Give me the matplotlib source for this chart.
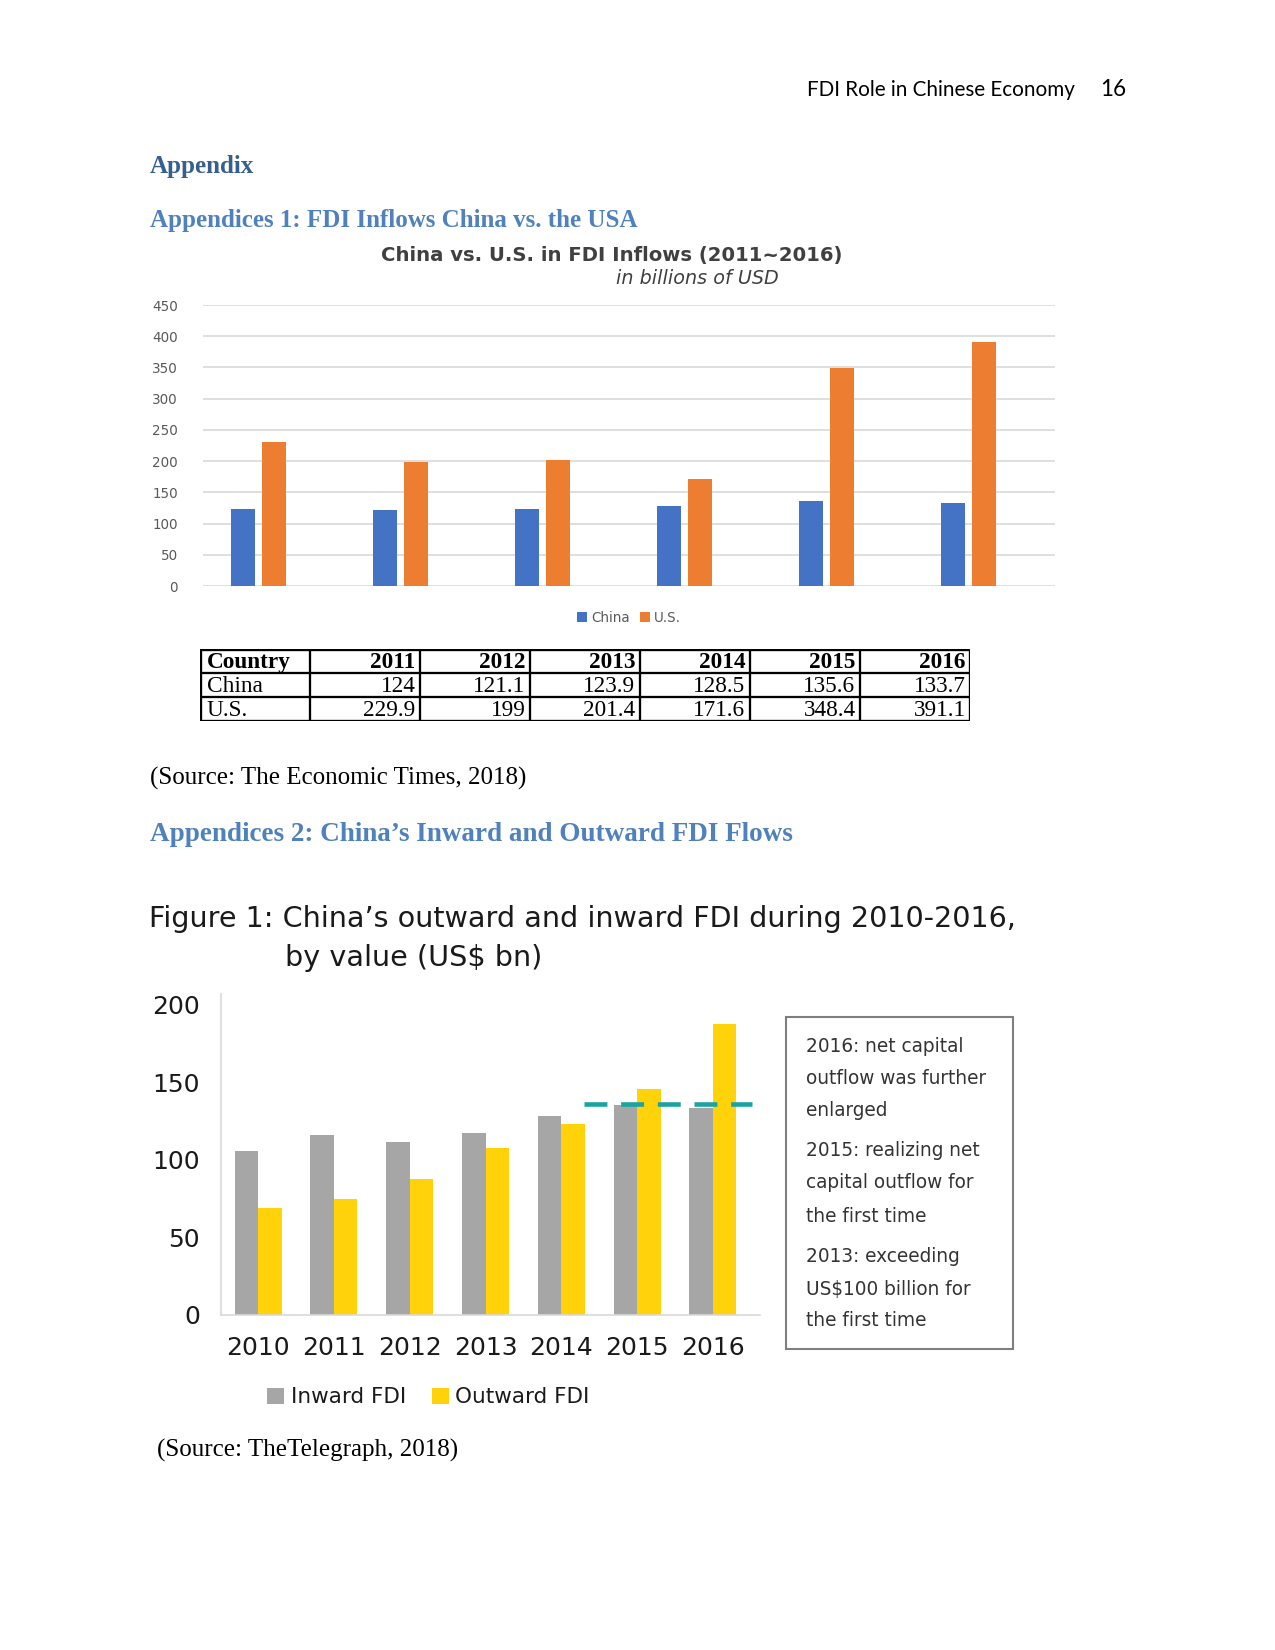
import matplotlib
matplotlib.use('Agg')
import matplotlib.pyplot as plt
from matplotlib.patches import Rectangle
import numpy as np

# ---- data ----
years1 = ['2011', '2012', '2013', '2014', '2015', '2016']
china = [124, 121.1, 123.9, 128.5, 135.6, 133.7]
us = [229.9, 199, 201.4, 171.6, 348.4, 391.1]

years2 = ['2010', '2011', '2012', '2013', '2014', '2015', '2016']
inward = [105.7, 116.0, 111.7, 117.6, 128.5, 135.6, 133.7]
outward = [68.8, 74.7, 87.8, 107.8, 123.1, 145.7, 187.8]
net_level = 135.8

notes = ['2016: net capital', 'outflow was further', 'enlarged',
         '2015: realizing net', 'capital outflow for', 'the first time',
         '2013: exceeding', 'US$100 billion for', 'the first time']

W, H = 1275, 1650
fig = plt.figure(figsize=(8.5, 11), dpi=150)

def fx(x):
    return x / W

def fy(y):
    return 1 - y / H

serif = 'Liberation Serif'
head1 = '#365F91'
head2 = '#4F81BD'

# page header
fig.text(fx(1075), fy(90), 'FDI Role in Chinese Economy', ha='right', va='center',
         fontsize=9.9, family='Lato', color='black')
fig.text(fx(1126), fy(90), '16', ha='right', va='center',
         fontsize=10.8, family='Lato', color='black')

fig.text(fx(150), fy(167), 'Appendix', ha='left', va='center', fontsize=12,
         family=serif, weight='bold', color=head1)
fig.text(fx(150), fy(221), 'Appendices 1: FDI Inflows China vs. the USA', ha='left',
         va='center', fontsize=12, family=serif, weight='bold', color=head2)

# ---- chart 1 ----
ax1 = fig.add_axes([fx(203), fy(586), (1055 - 203) / W, (586 - 305) / H])
x = np.arange(len(years1))
ax1.bar(x - 0.11, china, width=0.17, color='#4472C4', label='China', zorder=3)
ax1.bar(x + 0.11, us, width=0.17, color='#ED7D31', label='U.S.', zorder=3)
ax1.set_xlim(-0.39, len(years1) - 0.39)
ax1.set_ylim(0, 450)
ax1.set_yticks(range(0, 451, 50))
ax1.set_xticks([])
ax1.grid(axis='y', color='#D9D9D9', lw=0.8, zorder=0)
for s in ax1.spines.values():
    s.set_visible(False)
ax1.tick_params(axis='y', length=0, labelsize=6.5, labelcolor='#595959', pad=12)
ax1.legend(loc='upper center', bbox_to_anchor=(0.5, -0.045), ncol=2, frameon=False,
           fontsize=6.5, handlelength=0.7, handleheight=0.7, columnspacing=0.8,
           handletextpad=0.3, labelcolor='#595959')
fig.text(fx(612), fy(256), 'China vs. U.S. in FDI Inflows (2011~2016)', ha='center',
         va='center', fontsize=9.4, weight='bold', color='#404040')
fig.text(fx(697), fy(279), 'in billions of USD', ha='center', va='center',
         fontsize=9.2, style='italic', color='#404040')

# ---- table ----
axt = fig.add_axes([fx(200), fy(721), (970 - 200) / W, (721 - 649) / H])
axt.set_xlim(0, 7)
axt.set_ylim(3, 0)
axt.axis('off')
for i in range(8):
    axt.plot([i, i], [0, 3], color='black', lw=1.6 if i in (0, 7) else 1.1)
for j in range(4):
    axt.plot([0, 7], [j, j], color='black', lw=1.6 if j in (0, 3) else 1.1)
rows = [['Country'] + years1,
        ['China'] + [f'{v:g}' for v in china],
        ['U.S.'] + [f'{v:g}' for v in us]]
for r, row in enumerate(rows):
    for c, val in enumerate(row):
        bold = 'bold' if r == 0 else 'normal'
        if c == 0:
            axt.text(0.06, r + 0.55, val, ha='left', va='center', family=serif,
                     fontsize=11.2, weight=bold)
        else:
            axt.text(c + 0.96, r + 0.55, val, ha='right', va='center', family=serif,
                     fontsize=11.2, weight=bold)

fig.text(fx(150), fy(778), '(Source: The Economic Times, 2018)', ha='left', va='center',
         fontsize=12, family=serif)
fig.text(fx(150), fy(834), 'Appendices 2: China\u2019s Inward and Outward FDI Flows',
         ha='left', va='center', fontsize=13, family=serif, weight='bold', color=head2)

# ---- chart 2 ----
fig.text(fx(149), fy(919), 'Figure 1: China\u2019s outward and inward FDI during 2010-2016,',
         ha='left', va='center', fontsize=13.75, color='#1a1a1a')
fig.text(fx(285), fy(958), 'by value (US$ bn)', ha='left', va='center',
         fontsize=13.75, color='#1a1a1a')

ax2 = fig.add_axes([fx(221), fy(1315), (760 - 221) / W, (1315 - 994) / H])
x2 = np.arange(len(years2))
ax2.bar(x2 - 0.155, inward, width=0.31, color='#A6A6A6', label='Inward FDI')
ax2.bar(x2 + 0.155, outward, width=0.31, color='#FFD20A', label='Outward FDI')
ax2.plot([4.30, 6.52], [net_level, net_level], color='#1AA3A3', lw=2.2,
         dashes=(5, 3))
ax2.set_xlim(-0.49, 6.62)
ax2.set_ylim(0, 207)
ax2.set_yticks(range(0, 201, 50))
ax2.set_xticks(x2)
ax2.set_xticklabels(years2)
ax2.spines['top'].set_visible(False)
ax2.spines['right'].set_visible(False)
ax2.spines['left'].set_color('#D9D9D9')
ax2.spines['bottom'].set_color('#D9D9D9')
ax2.tick_params(length=0, labelsize=12, labelcolor='#1a1a1a')
ax2.tick_params(axis='y', pad=10)
ax2.tick_params(axis='x', pad=10)
ax2.legend(loc='upper center', bbox_to_anchor=(0.385, -0.165), ncol=2, frameon=False,
           fontsize=10.3, handlelength=0.8, handleheight=0.8, columnspacing=1.2,
           handletextpad=0.3, labelcolor='#1a1a1a')

fig.patches.append(Rectangle((fx(786), fy(1349)), (1013 - 786) / W, (1349 - 1017) / H,
                             transform=fig.transFigure, fill=False,
                             edgecolor='#7F7F7F', lw=1))
note_y = [1046, 1078, 1110, 1151, 1182, 1216, 1257, 1289, 1321]
for yy, t in zip(note_y, notes):
    fig.text(fx(806), fy(yy), t, ha='left', va='center', fontsize=8.9, color='#333333')

fig.text(fx(157), fy(1450), '(Source: TheTelegraph, 2018)', ha='left', va='center',
         fontsize=12, family=serif)

fig.savefig('out.png', dpi=150, facecolor='white')
